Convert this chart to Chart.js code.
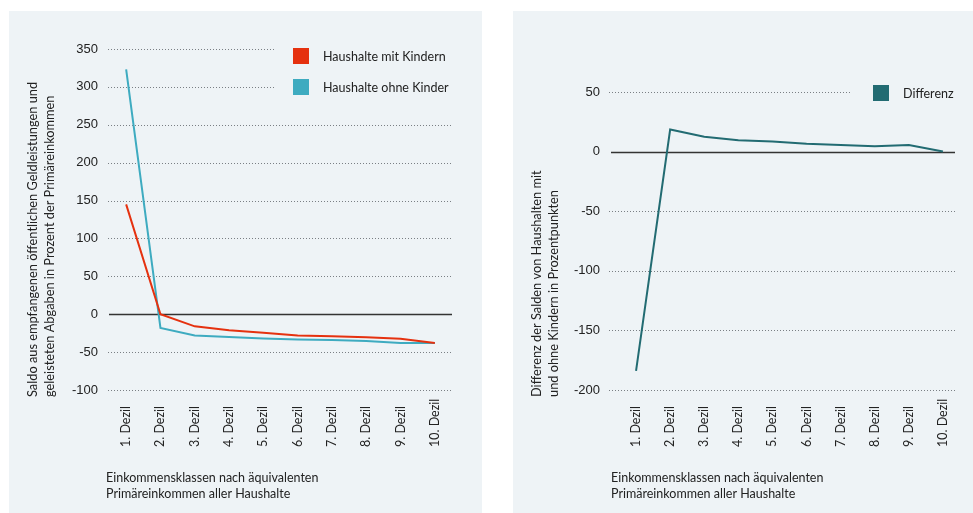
<!DOCTYPE html>
<html>
<head>
<meta charset="utf-8">
<title>Saldo nach Dezilen</title>
<script src="https://cdn.jsdelivr.net/npm/chart.js@4.4.1/dist/chart.umd.min.js"></script>
<style>
  body { margin:0; background:#fff; width:973px; height:513px; overflow:hidden; position:relative; }
  .panel { position:absolute; top:11px; height:502px; background:#eef3f6; }
  #p1 { left:9px; width:473px; }
  #p2 { left:513px; width:460px; }
</style>
</head>
<body>
<div class="panel" id="p1"><canvas id="c1" width="473" height="502"></canvas></div>
<div class="panel" id="p2"><canvas id="c2" width="460" height="502"></canvas></div>
<script>
  // Daten
  var dezile = ['1. Dezil', '2. Dezil', '3. Dezil', '4. Dezil', '5. Dezil',
                '6. Dezil', '7. Dezil', '8. Dezil', '9. Dezil', '10. Dezil'];
  var mitKindern = [145, 0, -16, -21, -24.5, -28, -29, -30.5, -32.5, -38];
  var ohneKinder = [323, -18, -28, -30, -32, -33.5, -34, -35.5, -38, -38];
  var differenz = [-184, 18.5, 12.5, 9.5, 8.5, 6.5, 5.5, 4.5, 5.5, 0];

  var xTitel = ['Einkommensklassen nach äquivalenten', 'Primäreinkommen aller Haushalte'];
  var yTitelLinks = ['Saldo aus empfangenen öffentlichen Geldleistungen und',
                     'geleisteten Abgaben in Prozent der Primäreinkommen'];
  var yTitelRechts = ['Differenz der Salden von Haushalten mit',
                      'und ohne Kindern in Prozentpunkten'];

  var rot = '#e5310f', tuerkis = '#3eabc0', petrol = '#226b72';
  var schrift = 'Lato, "Open Sans", sans-serif';
  var textFarbe = '#222';

  // Gitterlinien, Achsentitel, x-Beschriftung und Legende
  var deko = {
    id: 'deko',
    beforeDatasetsDraw: function(chart, args, o) {
      var ctx = chart.ctx, a = chart.chartArea, y = chart.scales.y;
      ctx.save();
      y.ticks.forEach(function(t) {
        var py = Math.round(y.getPixelForValue(t.value)) + 0.5;
        var x0 = a.left + o.gridFrom, x1 = a.right + o.gridTo;
        ctx.beginPath();
        if (t.value === 0) {
          ctx.setLineDash([]);
          ctx.strokeStyle = '#333';
          ctx.lineWidth = 1.3;
          x0 = a.left + o.zeroFrom;
        } else {
          ctx.setLineDash([1, 2]);
          ctx.strokeStyle = '#7a7f84';
          ctx.lineWidth = 1;
          if (t.value >= o.stopAb) x1 = o.stopX;
        }
        ctx.moveTo(x0, py);
        ctx.lineTo(x1, py);
        ctx.stroke();
      });
      ctx.restore();
    },
    afterDraw: function(chart, args, o) {
      var ctx = chart.ctx, x = chart.scales.x;
      ctx.save();
      ctx.fillStyle = textFarbe;
      ctx.font = '12.5px ' + schrift;

      // x-Beschriftung, senkrecht
      dezile.forEach(function(d, i) {
        ctx.save();
        ctx.translate(x.getPixelForTick(i), 436);
        ctx.rotate(-Math.PI / 2);
        ctx.textAlign = 'left';
        ctx.textBaseline = 'middle';
        ctx.fillText(d, 0, 0);
        ctx.restore();
      });

      // y-Titel
      ctx.font = '12.8px ' + schrift;
      o.yTitel.forEach(function(z, i) {
        ctx.save();
        ctx.translate(24 + i * 16.5, 386);
        ctx.rotate(-Math.PI / 2);
        ctx.textAlign = 'left';
        ctx.textBaseline = 'middle';
        ctx.fillText(z, 0, 0);
        ctx.restore();
      });

      // x-Titel
      ctx.font = '12.5px ' + schrift;
      ctx.textAlign = 'left';
      ctx.textBaseline = 'middle';
      xTitel.forEach(function(z, i) {
        ctx.fillText(z, o.xTitelX, 467 + i * 16);
      });

      // Legende
      chart.data.datasets.forEach(function(ds, i) {
        var ly = o.legY + i * 31;
        ctx.fillStyle = ds.borderColor;
        ctx.fillRect(o.legX, ly, 16, 16);
        ctx.fillStyle = textFarbe;
        ctx.fillText(ds.label, o.legX + 30, ly + 8.5);
      });
      ctx.restore();
    }
  };

  function optionen(p) {
    return {
      responsive: false,
      animation: false,
      layout: { padding: { top: p.top, right: p.right, left: 0, bottom: 0 } },
      plugins: {
        legend: { display: false },
        tooltip: { enabled: false },
        deko: p.deko
      },
      elements: {
        line: { tension: 0, borderWidth: 2 },
        point: { radius: 0 }
      },
      scales: {
        x: {
          offset: true,
          grid: { display: false, drawTicks: false },
          border: { display: false },
          ticks: { display: false },
          afterFit: function(s) { s.height = 123; }
        },
        y: {
          min: p.min, max: p.max,
          grid: { display: false, drawTicks: false },
          border: { display: false },
          ticks: {
            stepSize: 50,
            padding: p.tickPad,
            color: '#222',
            font: { family: '"Liberation Sans", Arial, sans-serif', size: 13 }
          },
          afterFit: function(s) { s.width = p.left; }
        }
      }
    };
  }

  new Chart(document.getElementById('c1'), {
    type: 'line',
    data: {
      labels: dezile,
      datasets: [
        { label: 'Haushalte mit Kindern', data: mitKindern, borderColor: rot, backgroundColor: rot },
        { label: 'Haushalte ohne Kinder', data: ohneKinder, borderColor: tuerkis, backgroundColor: tuerkis }
      ]
    },
    options: optionen({
      top: 38, right: 30, left: 100, min: -100, max: 350, tickPad: 11,
      deko: { gridFrom: -1, gridTo: 0, zeroFrom: 0, stopAb: 300, stopX: 266,
              yTitel: yTitelLinks, xTitelX: 97, legX: 284, legY: 37 }
    }),
    plugins: [deko]
  });

  new Chart(document.getElementById('c2'), {
    type: 'line',
    data: {
      labels: dezile,
      datasets: [
        { label: 'Differenz', data: differenz, borderColor: petrol, backgroundColor: petrol }
      ]
    },
    options: optionen({
      top: 81, right: 13, left: 106, min: -200, max: 50, tickPad: 19,
      deko: { gridFrom: -10, gridTo: -5, zeroFrom: -8, stopAb: 50, stopX: 337,
              yTitel: yTitelRechts, xTitelX: 98, legX: 360, legY: 74 }
    }),
    plugins: [deko]
  });
</script>
</body>
</html>
